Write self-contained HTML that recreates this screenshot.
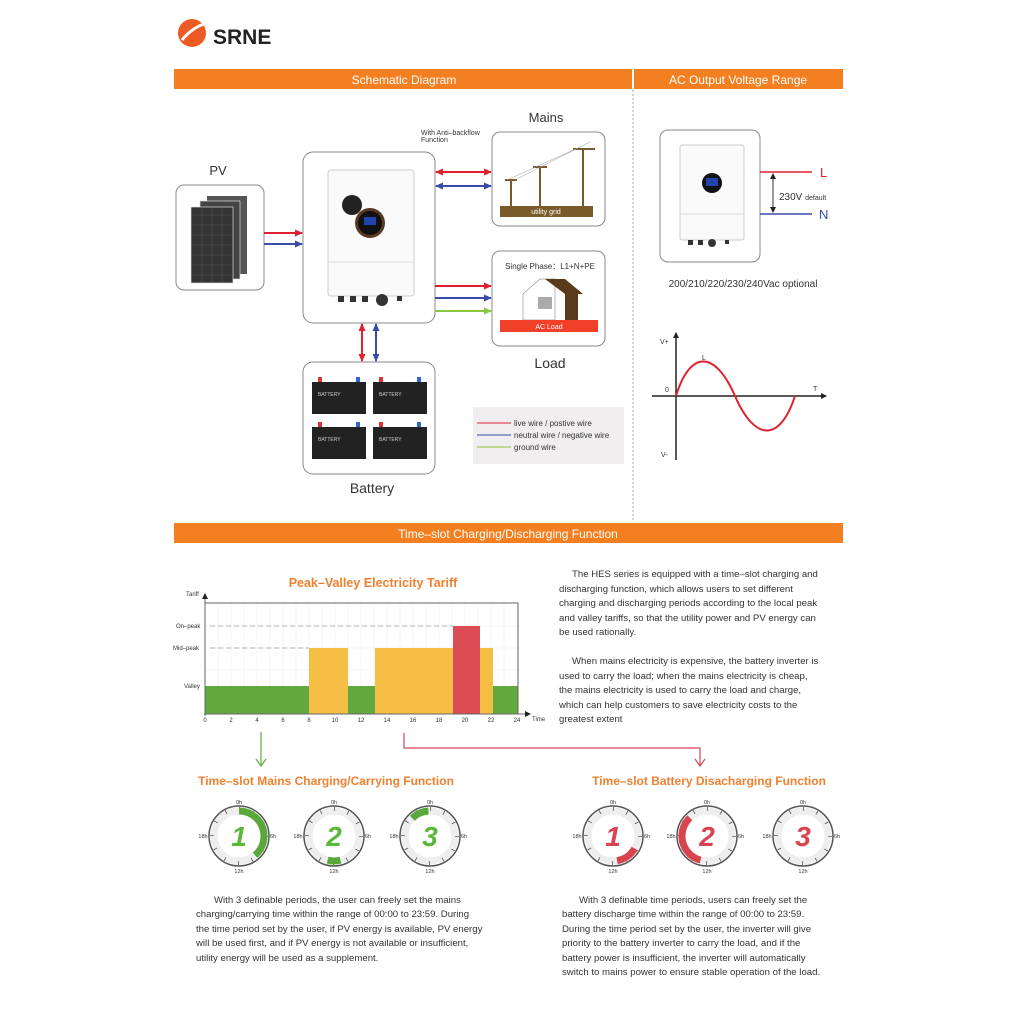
<!DOCTYPE html>
<html><head><meta charset="utf-8"><style>
body{margin:0;background:#fff}
svg{display:block;font-family:"Liberation Sans",sans-serif}
</style></head><body>
<svg width="1024" height="1024" viewBox="0 0 1024 1024" xmlns="http://www.w3.org/2000/svg">
<defs>
<marker id="ar" markerUnits="userSpaceOnUse" markerWidth="8" markerHeight="7" refX="7" refY="3.5" orient="auto-start-reverse"><path d="M0,0 L8,3.5 L0,7 z" fill="#e02030"/></marker>
<marker id="ab" markerUnits="userSpaceOnUse" markerWidth="8" markerHeight="7" refX="7" refY="3.5" orient="auto-start-reverse"><path d="M0,0 L8,3.5 L0,7 z" fill="#3a4ca8"/></marker>
<marker id="ag" markerUnits="userSpaceOnUse" markerWidth="8" markerHeight="7" refX="7" refY="3.5" orient="auto-start-reverse"><path d="M0,0 L8,3.5 L0,7 z" fill="#8cc63f"/></marker>
<marker id="ak" markerUnits="userSpaceOnUse" markerWidth="6" markerHeight="6" refX="5" refY="3" orient="auto-start-reverse"><path d="M0,0 L6,3 L0,6 z" fill="#222"/></marker>
</defs>
<!-- logo -->
<circle cx="192" cy="33" r="14" fill="#ee5a24"/>
<path d="M182,40 Q192,28 204,24" stroke="#fff" stroke-width="3" fill="none"/>
<text x="213" y="44" font-size="21" font-weight="bold" fill="#222">SRNE</text>
<!-- header bars -->
<rect x="174" y="69" width="669" height="20" fill="#f47f20"/>
<rect x="632" y="69" width="2" height="20" fill="#fff"/>
<text x="404" y="84" font-size="12" fill="#fff" text-anchor="middle">Schematic Diagram</text>
<text x="738" y="84" font-size="12" fill="#fff" text-anchor="middle">AC Output Voltage Range</text>
<line x1="633" y1="90" x2="633" y2="520" stroke="#aaa" stroke-dasharray="2 2"/>
<rect x="174" y="523" width="669" height="20" fill="#f47f20"/>
<text x="508" y="538" font-size="12" fill="#fff" text-anchor="middle">Time–slot Charging/Discharging Function</text>

<!-- boxes -->
<g fill="#fff" stroke="#888" stroke-width="1">
<rect x="176" y="185" width="88" height="105" rx="8"/>
<rect x="303" y="152" width="132" height="171" rx="10"/>
<rect x="492" y="132" width="113" height="94" rx="8"/>
<rect x="492" y="251" width="113" height="95" rx="8"/>
<rect x="303" y="362" width="132" height="112" rx="10"/>
</g>
<text x="218" y="175" font-size="13" fill="#333" text-anchor="middle">PV</text>
<text x="546" y="122" font-size="13" fill="#333" text-anchor="middle">Mains</text>
<text x="550" y="368" font-size="14" fill="#333" text-anchor="middle">Load</text>
<text x="372" y="493" font-size="14" fill="#333" text-anchor="middle">Battery</text>
<text x="421" y="135" font-size="7" fill="#333">With Anti–backflow</text>
<text x="421" y="142" font-size="7" fill="#333">Function</text>
<!-- PV panels -->
<rect x="207" y="196" width="40" height="78" fill="#555"/>
<rect x="200" y="201" width="40" height="78" fill="#444" stroke="#ddd" stroke-width="0.7"/>
<rect x="191" y="207" width="42" height="76" fill="#333" stroke="#ddd" stroke-width="0.7"/>
<g stroke="#666" stroke-width="0.4">
<line x1="191" y1="215" x2="233" y2="215"/><line x1="191" y1="225" x2="233" y2="225"/><line x1="191" y1="235" x2="233" y2="235"/><line x1="191" y1="245" x2="233" y2="245"/><line x1="191" y1="255" x2="233" y2="255"/><line x1="191" y1="265" x2="233" y2="265"/><line x1="191" y1="275" x2="233" y2="275"/>
<line x1="202" y1="207" x2="202" y2="283"/><line x1="212" y1="207" x2="212" y2="283"/><line x1="222" y1="207" x2="222" y2="283"/>
</g>
<!-- inverter -->
<rect x="328" y="170" width="86" height="126" rx="3" fill="#fafafa" stroke="#ccc"/>
<line x1="328" y1="262" x2="414" y2="262" stroke="#ddd"/>
<circle cx="352" cy="205" r="10" fill="#222"/>
<circle cx="370" cy="223" r="15" fill="#5a3a22"/><circle cx="370" cy="223" r="12" fill="#111"/>
<rect x="364" y="217" width="12" height="8" fill="#2244aa"/>
<g fill="#333"><rect x="338" y="296" width="6" height="6"/><rect x="350" y="296" width="6" height="6"/><rect x="362" y="296" width="6" height="6"/><circle cx="382" cy="300" r="6"/><rect x="397" y="296" width="5" height="5"/></g>
<!-- mains -->
<rect x="500" y="206" width="93" height="11" fill="#7a5a2a"/>
<text x="546" y="214" font-size="7" fill="#fff" text-anchor="middle">utility grid</text>
<g stroke="#7a5a2a" stroke-width="2"><line x1="511" y1="180" x2="511" y2="206"/><line x1="540" y1="167" x2="540" y2="206"/><line x1="583" y1="149" x2="583" y2="206"/><line x1="505" y1="180" x2="517" y2="180"/><line x1="533" y1="167" x2="547" y2="167"/><line x1="573" y1="149" x2="595" y2="149"/></g>
<g stroke="#999" stroke-width="0.5" fill="none"><path d="M507,180 L580,147"/><path d="M515,180 L590,142"/></g>
<!-- load -->
<text x="550" y="269" font-size="8" fill="#333" text-anchor="middle">Single Phase：L1+N+PE</text>
<path d="M523,294 L540,279 L555,279 L555,320 L523,320 Z" fill="#fff" stroke="#999" stroke-width="0.7"/>
<path d="M545,279 L565,279 L583,294 L578,294 L578,320 L565,320 L565,294 Z" fill="#5a3a1a"/>
<rect x="538" y="297" width="14" height="12" fill="#aaa"/>
<rect x="500" y="320" width="98" height="12" fill="#f0402a"/>
<text x="549" y="329" font-size="7" fill="#fff" text-anchor="middle">AC Load</text>
<!-- batteries -->
<g fill="#222"><rect x="312" y="382" width="54" height="32"/><rect x="373" y="382" width="54" height="32"/><rect x="312" y="427" width="54" height="32"/><rect x="373" y="427" width="54" height="32"/></g>
<g fill="#d33"><rect x="318" y="377" width="4" height="5"/><rect x="379" y="377" width="4" height="5"/><rect x="318" y="422" width="4" height="5"/><rect x="379" y="422" width="4" height="5"/></g>
<g fill="#36c"><rect x="356" y="377" width="4" height="5"/><rect x="417" y="377" width="4" height="5"/><rect x="356" y="422" width="4" height="5"/><rect x="417" y="422" width="4" height="5"/></g>
<g font-size="5" fill="#ccc"><text x="318" y="396">BATTERY</text><text x="379" y="396">BATTERY</text><text x="318" y="441">BATTERY</text><text x="379" y="441">BATTERY</text></g>
<!-- arrows -->
<g stroke-width="2" fill="none">
<line x1="264" y1="233" x2="302" y2="233" stroke="#e02030" marker-end="url(#ar)"/>
<line x1="264" y1="244" x2="302" y2="244" stroke="#3a4ca8" marker-end="url(#ab)"/>
<line x1="436" y1="172" x2="491" y2="172" stroke="#e02030" marker-start="url(#ar)" marker-end="url(#ar)"/>
<line x1="436" y1="186" x2="491" y2="186" stroke="#3a4ca8" marker-start="url(#ab)" marker-end="url(#ab)"/>
<line x1="435" y1="286" x2="491" y2="286" stroke="#e02030" marker-end="url(#ar)"/>
<line x1="435" y1="298" x2="491" y2="298" stroke="#3a4ca8" marker-end="url(#ab)"/>
<line x1="435" y1="311" x2="491" y2="311" stroke="#8cc63f" marker-end="url(#ag)"/>
<line x1="362" y1="324" x2="362" y2="361" stroke="#e02030" marker-start="url(#ar)" marker-end="url(#ar)"/>
<line x1="376" y1="324" x2="376" y2="361" stroke="#3a4ca8" marker-start="url(#ab)" marker-end="url(#ab)"/>
</g>
<!-- legend -->
<rect x="473" y="407" width="151" height="57" fill="#f0eeee"/>
<line x1="477" y1="423" x2="511" y2="423" stroke="#e02030"/>
<line x1="477" y1="435" x2="511" y2="435" stroke="#3a4ca8"/>
<line x1="477" y1="447" x2="511" y2="447" stroke="#8cc63f"/>
<g font-size="8" fill="#333"><text x="514" y="426">live wire / postive wire</text><text x="514" y="438">neutral wire / negative wire</text><text x="514" y="450">ground wire</text></g>

<!-- AC right -->
<rect x="660" y="130" width="100" height="132" rx="8" fill="#fff" stroke="#888"/>
<rect x="680" y="145" width="64" height="95" rx="2" fill="#fafafa" stroke="#ccc"/>
<line x1="680" y1="214" x2="744" y2="214" stroke="#ddd"/>
<circle cx="712" cy="183" r="10" fill="#111"/><rect x="706" y="178" width="12" height="8" fill="#2244aa"/>
<g fill="#333"><rect x="688" y="240" width="5" height="5"/><rect x="698" y="240" width="5" height="5"/><circle cx="712" cy="243" r="4"/><rect x="725" y="240" width="4" height="4"/></g>
<line x1="760" y1="172" x2="812" y2="172" stroke="#e02030" stroke-width="1.5"/>
<line x1="760" y1="214" x2="812" y2="214" stroke="#3a4ca8" stroke-width="1.5"/>
<line x1="773" y1="174" x2="773" y2="212" stroke="#333" marker-end="url(#ak)" marker-start="url(#ak)"/>
<text x="779" y="200" font-size="10" fill="#333">230V <tspan font-size="7">default</tspan></text>
<text x="820" y="177" font-size="13" fill="#e02030">L</text>
<text x="819" y="219" font-size="13" fill="#3a4ca8">N</text>
<text x="743" y="287" font-size="10" fill="#333" text-anchor="middle">200/210/220/230/240Vac optional</text>
<line x1="676" y1="460" x2="676" y2="333" stroke="#222" stroke-width="1.5" marker-end="url(#ak)"/>
<line x1="652" y1="396" x2="826" y2="396" stroke="#222" stroke-width="1.5" marker-end="url(#ak)"/>
<path d="M676,396 C690,350 715,350 735,396 C755,442 780,442 795,396" stroke="#e02030" stroke-width="2" fill="none"/>
<g font-size="7" fill="#333"><text x="660" y="344">V+</text><text x="665" y="392">0</text><text x="813" y="391">T</text><text x="661" y="457">V-</text><text x="702" y="360">L</text></g>

<!-- tariff chart -->
<text x="373" y="587" font-size="12.5" font-weight="bold" fill="#f08030" text-anchor="middle">Peak–Valley Electricity Tariff</text>
<g stroke="#eee" stroke-width="0.6">
<line x1="218" y1="603" x2="218" y2="714"/><line x1="231" y1="603" x2="231" y2="714"/><line x1="244" y1="603" x2="244" y2="714"/><line x1="257" y1="603" x2="257" y2="714"/><line x1="270" y1="603" x2="270" y2="714"/><line x1="283" y1="603" x2="283" y2="714"/><line x1="296" y1="603" x2="296" y2="714"/><line x1="309" y1="603" x2="309" y2="714"/><line x1="322" y1="603" x2="322" y2="714"/><line x1="335" y1="603" x2="335" y2="714"/><line x1="348" y1="603" x2="348" y2="714"/><line x1="361" y1="603" x2="361" y2="714"/><line x1="374" y1="603" x2="374" y2="714"/><line x1="387" y1="603" x2="387" y2="714"/><line x1="400" y1="603" x2="400" y2="714"/><line x1="413" y1="603" x2="413" y2="714"/><line x1="426" y1="603" x2="426" y2="714"/><line x1="439" y1="603" x2="439" y2="714"/><line x1="452" y1="603" x2="452" y2="714"/><line x1="465" y1="603" x2="465" y2="714"/><line x1="478" y1="603" x2="478" y2="714"/><line x1="491" y1="603" x2="491" y2="714"/><line x1="504" y1="603" x2="504" y2="714"/>
<line x1="205" y1="626" x2="518" y2="626"/><line x1="205" y1="648" x2="518" y2="648"/><line x1="205" y1="670" x2="518" y2="670"/><line x1="205" y1="692" x2="518" y2="692"/>
</g>
<rect x="205" y="686" width="104" height="28" fill="#62a93d"/>
<rect x="309" y="648" width="39" height="66" fill="#f5bf45"/>
<rect x="348" y="686" width="27" height="28" fill="#62a93d"/>
<rect x="375" y="648" width="78" height="66" fill="#f5bf45"/>
<rect x="453" y="626" width="27" height="88" fill="#dc4c55"/>
<rect x="480" y="648" width="13" height="66" fill="#f5bf45"/>
<rect x="493" y="686" width="25" height="28" fill="#62a93d"/>
<g stroke="#999" stroke-dasharray="5 3" stroke-width="0.8"><line x1="210" y1="626" x2="453" y2="626"/><line x1="210" y1="648" x2="309" y2="648"/></g>
<path d="M518,714 L518,603 L205,603" stroke="#666" fill="none"/>
<line x1="205" y1="716" x2="205" y2="594" stroke="#666" marker-end="url(#ak)"/>
<line x1="204" y1="714" x2="530" y2="714" stroke="#666" marker-end="url(#ak)"/>
<g font-size="6" fill="#333"><text x="186" y="596">Tariff</text><text x="176" y="628">On–peak</text><text x="173" y="650">Mid–peak</text><text x="184" y="688">Valley</text><text x="532" y="721">Time</text></g>
<g font-size="6" fill="#333" text-anchor="middle"><text x="205" y="722">0</text><text x="231" y="722">2</text><text x="257" y="722">4</text><text x="283" y="722">6</text><text x="309" y="722">8</text><text x="335" y="722">10</text><text x="361" y="722">12</text><text x="387" y="722">14</text><text x="413" y="722">16</text><text x="439" y="722">18</text><text x="465" y="722">20</text><text x="491" y="722">22</text><text x="517" y="722">24</text></g>

<!-- right text -->
<g font-size="9.6" fill="#333">
<text x="572" y="577">The HES series is equipped with a time–slot charging and</text>
<text x="559" y="592">discharging function, which allows users to set different</text>
<text x="559" y="606">charging and discharging periods according to the local peak</text>
<text x="559" y="621">and valley tariffs, so that the utility power and PV energy can</text>
<text x="559" y="635">be used rationally.</text>
<text x="572" y="664">When mains electricity is expensive, the battery inverter is</text>
<text x="559" y="679">used to carry the load; when the mains electricity is cheap,</text>
<text x="559" y="693">the mains electricity is used to carry the load and charge,</text>
<text x="559" y="708">which can help customers to save electricity costs to the</text>
<text x="559" y="722">greatest extent</text>
</g>
<!-- connector arrows -->
<line x1="261" y1="732" x2="261" y2="765" stroke="#62a93d" stroke-width="1.2"/>
<path d="M256,759 L261,766 L266,759" stroke="#62a93d" fill="none" stroke-width="1.2"/>
<path d="M404,733 L404,748 L700,748 L700,765" stroke="#d94450" fill="none" stroke-width="1.2"/>
<path d="M695,759 L700,766 L705,759" stroke="#d94450" fill="none" stroke-width="1.2"/>
<text x="326" y="785" font-size="12" font-weight="bold" fill="#f08030" text-anchor="middle">Time–slot Mains Charging/Carrying Function</text>
<text x="709" y="785" font-size="12" font-weight="bold" fill="#f08030" text-anchor="middle">Time–slot Battery Disacharging Function</text>

<!-- clocks -->
<g>
<g transform="translate(239,836)"><circle r="30" fill="#fff" stroke="#555" stroke-width="1.5"/><circle r="25" fill="none" stroke="#eee" stroke-width="7"/><circle r="27" fill="none" stroke="#555" stroke-width="4" stroke-dasharray="0.8 13.34" transform="rotate(-90)"/><circle r="25" fill="none" stroke="#5aa83a" stroke-width="7" stroke-dasharray="61 200" transform="rotate(-90)"/><text y="10" font-size="28" font-weight="bold" font-style="italic" fill="#5ab83a" text-anchor="middle">1</text></g>
<g transform="translate(334,836)"><circle r="30" fill="#fff" stroke="#555" stroke-width="1.5"/><circle r="25" fill="none" stroke="#eee" stroke-width="7"/><circle r="27" fill="none" stroke="#555" stroke-width="4" stroke-dasharray="0.8 13.34" transform="rotate(-90)"/><circle r="25" fill="none" stroke="#5aa83a" stroke-width="7" stroke-dasharray="13 200" transform="rotate(75)"/><text y="10" font-size="28" font-weight="bold" font-style="italic" fill="#5ab83a" text-anchor="middle">2</text></g>
<g transform="translate(430,836)"><circle r="30" fill="#fff" stroke="#555" stroke-width="1.5"/><circle r="25" fill="none" stroke="#eee" stroke-width="7"/><circle r="27" fill="none" stroke="#555" stroke-width="4" stroke-dasharray="0.8 13.34" transform="rotate(-90)"/><circle r="25" fill="none" stroke="#5aa83a" stroke-width="7" stroke-dasharray="18 200" transform="rotate(-135)"/><text y="10" font-size="28" font-weight="bold" font-style="italic" fill="#5ab83a" text-anchor="middle">3</text></g>
<g transform="translate(613,836)"><circle r="30" fill="#fff" stroke="#555" stroke-width="1.5"/><circle r="25" fill="none" stroke="#eee" stroke-width="7"/><circle r="27" fill="none" stroke="#555" stroke-width="4" stroke-dasharray="0.8 13.34" transform="rotate(-90)"/><circle r="25" fill="none" stroke="#d94450" stroke-width="7" stroke-dasharray="22 200" transform="rotate(30)"/><text y="10" font-size="28" font-weight="bold" font-style="italic" fill="#d94450" text-anchor="middle">1</text></g>
<g transform="translate(707,836)"><circle r="30" fill="#fff" stroke="#555" stroke-width="1.5"/><circle r="25" fill="none" stroke="#eee" stroke-width="7"/><circle r="27" fill="none" stroke="#555" stroke-width="4" stroke-dasharray="0.8 13.34" transform="rotate(-90)"/><circle r="25" fill="none" stroke="#d94450" stroke-width="7" stroke-dasharray="53 200" transform="rotate(105)"/><text y="10" font-size="28" font-weight="bold" font-style="italic" fill="#d94450" text-anchor="middle">2</text></g>
<g transform="translate(803,836)"><circle r="30" fill="#fff" stroke="#555" stroke-width="1.5"/><circle r="25" fill="none" stroke="#eee" stroke-width="7"/><circle r="27" fill="none" stroke="#555" stroke-width="4" stroke-dasharray="0.8 13.34" transform="rotate(-90)"/><text y="10" font-size="28" font-weight="bold" font-style="italic" fill="#d94450" text-anchor="middle">3</text></g>
</g>
<g font-size="5.5" fill="#333" text-anchor="middle">
<text x="239" y="804">0h</text><text x="239" y="873">12h</text><text x="203" y="838">18h</text><text x="273" y="838">6h</text>
<text x="334" y="804">0h</text><text x="334" y="873">12h</text><text x="298" y="838">18h</text><text x="368" y="838">6h</text>
<text x="430" y="804">0h</text><text x="430" y="873">12h</text><text x="394" y="838">18h</text><text x="464" y="838">6h</text>
<text x="613" y="804">0h</text><text x="613" y="873">12h</text><text x="577" y="838">18h</text><text x="647" y="838">6h</text>
<text x="707" y="804">0h</text><text x="707" y="873">12h</text><text x="671" y="838">18h</text><text x="741" y="838">6h</text>
<text x="803" y="804">0h</text><text x="803" y="873">12h</text><text x="767" y="838">18h</text><text x="837" y="838">6h</text>
</g>

<!-- bottom paragraphs -->
<g font-size="9.6" fill="#333">
<text x="214" y="903">With 3 definable periods, the user can freely set the mains</text>
<text x="196" y="917">charging/carrying time within the range of 00:00 to 23:59. During</text>
<text x="196" y="932">the time period set by the user, if PV energy is available, PV energy</text>
<text x="196" y="946">will be used first, and if PV energy is not available or insufficient,</text>
<text x="196" y="961">utility energy will be used as a supplement.</text>
<text x="579" y="903">With 3 definable time periods, users can freely set the</text>
<text x="562" y="917">battery discharge time within the range of 00:00 to 23:59.</text>
<text x="562" y="932">During the time period set by the user, the inverter will give</text>
<text x="562" y="946">priority to the battery inverter to carry the load, and if the</text>
<text x="562" y="961">battery power is insufficient, the inverter will automatically</text>
<text x="562" y="975">switch to mains power to ensure stable operation of the load.</text>
</g>
</svg>
</body></html>
